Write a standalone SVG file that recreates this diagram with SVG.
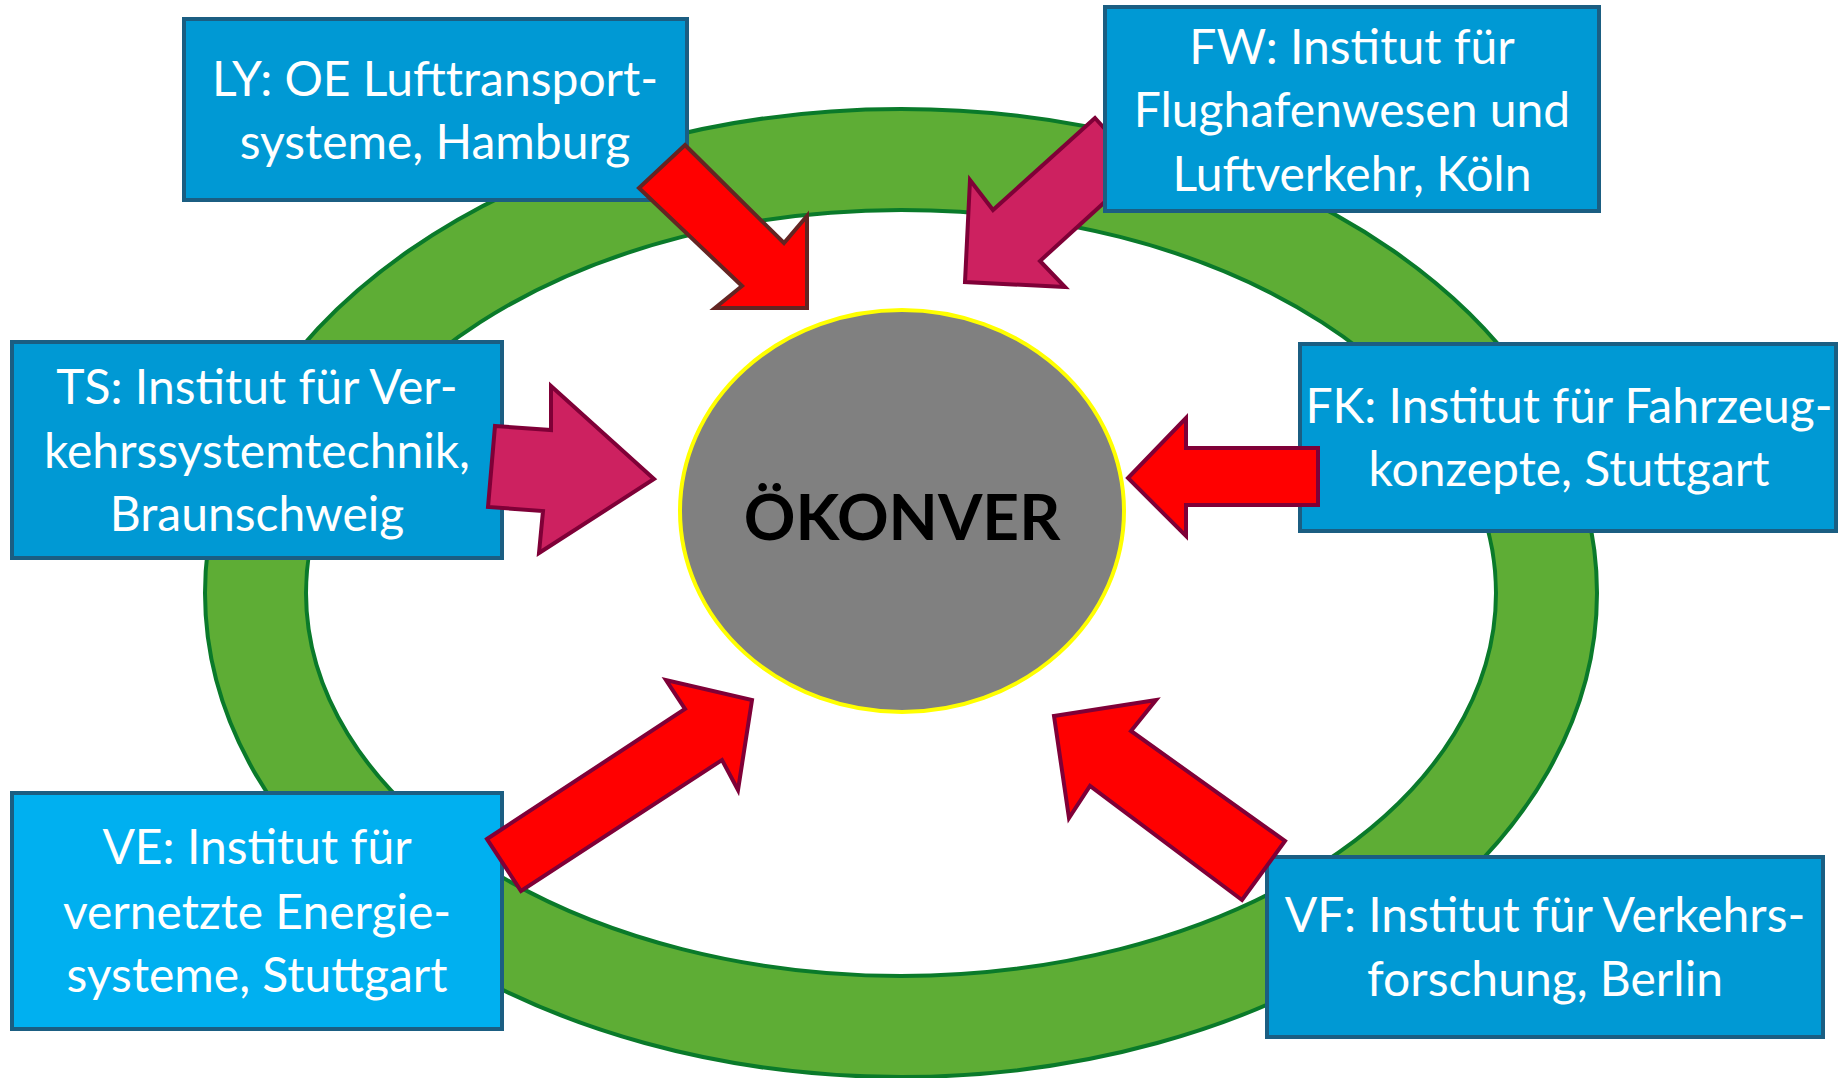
<svg xmlns="http://www.w3.org/2000/svg" width="1839" height="1078" viewBox="0 0 1839 1078">
<style>
.box{fill:#0099D4;stroke:#1B5E82;stroke-width:4}
.box2{fill:#00B0F0;stroke:#1B5E82;stroke-width:4}
.lbl{font-family:Lato,"Liberation Sans",sans-serif;font-size:48px;fill:#FFFFFF;text-anchor:middle}
.ar{fill:#FF0000;stroke:#7F0037;stroke-width:4;stroke-linejoin:miter}
.am{fill:#CD2160;stroke:#7F0037;stroke-width:4;stroke-linejoin:miter}
</style>
<rect width="1839" height="1078" fill="#FFFFFF"/>
<g id="ring">
<path d="M205,593 A696,484 0 1,0 1597,593 A696,484 0 1,0 205,593 Z M306,593 A595,383 0 1,1 1496,593 A595,383 0 1,1 306,593 Z" fill="#5EAD35" fill-rule="evenodd" stroke="#0A7A2A" stroke-width="4"/>
</g>
<g id="center">
<ellipse cx="902" cy="511" rx="222" ry="201" fill="#808080" stroke="#FFFF00" stroke-width="4"/>
<text x="902" y="540" font-family="Lato,'Liberation Sans',sans-serif" font-size="64" font-weight="bold" fill="#000000" text-anchor="middle">ÖKONVER</text>
</g>
<g id="connectors">
<polygon id="arrow-fw" class="am" points="1095,118 993,210 970,180 965,282 1065,287 1040,261 1141,169"/>
</g>
<g id="node-ly">
<rect class="box" x="184" y="19" width="503" height="181"/>
<text class="lbl" x="435" y="96">LY: OE Lufttransport-</text>
<text class="lbl" x="435" y="159">systeme, Hamburg</text>
</g>
<g id="node-fw">
<rect class="box" x="1105" y="7" width="494" height="204"/>
<text class="lbl" x="1352" y="64">FW: Institut für</text>
<text class="lbl" x="1352" y="127">Flughafenwesen und</text>
<text class="lbl" x="1352" y="191">Luftverkehr, Köln</text>
</g>
<g id="node-ts">
<rect class="box" x="12" y="342" width="490" height="216"/>
<text class="lbl" x="257" y="404">TS: Institut für Ver-</text>
<text class="lbl" x="257" y="468">kehrssystemtechnik,</text>
<text class="lbl" x="257" y="531">Braunschweig</text>
</g>
<g id="node-fk">
<rect class="box" x="1300" y="344" width="536" height="187"/>
<text class="lbl" x="1569" y="423">FK: Institut für Fahrzeug-</text>
<text class="lbl" x="1569" y="486">konzepte, Stuttgart</text>
</g>
<g id="node-ve">
<rect class="box2" x="12" y="793" width="490" height="236"/>
<text class="lbl" x="257" y="864">VE: Institut für</text>
<text class="lbl" x="257" y="929">vernetzte Energie-</text>
<text class="lbl" x="257" y="992">systeme, Stuttgart</text>
</g>
<g id="node-vf">
<rect class="box" x="1267" y="857" width="556" height="180"/>
<text class="lbl" x="1545" y="932">VF: Institut für Verkehrs-</text>
<text class="lbl" x="1545" y="996">forschung, Berlin</text>
</g>
<g id="connectors-front">
<polygon id="arrow-ly" class="ar" style="stroke:#632523" points="685,145 784,243 807,216 807,308 715,308 742,286 639,188"/>
<polygon id="arrow-ts" class="am" points="495,426 551,430 551,386 654,479 539,553 543,511 488,507"/>
<polygon id="arrow-fk" class="ar" points="1318,448 1186,448 1186,418 1128,478 1186,536 1186,505 1318,505"/>
<polygon id="arrow-ve" class="ar" points="487,839 685,709 666,680 752,700 738,790 722,760 521,891"/>
<polygon id="arrow-vf" class="ar" points="1054,716 1156,700 1131,731 1285,841 1242,900 1090,786 1069,818"/>
</g>
</svg>
